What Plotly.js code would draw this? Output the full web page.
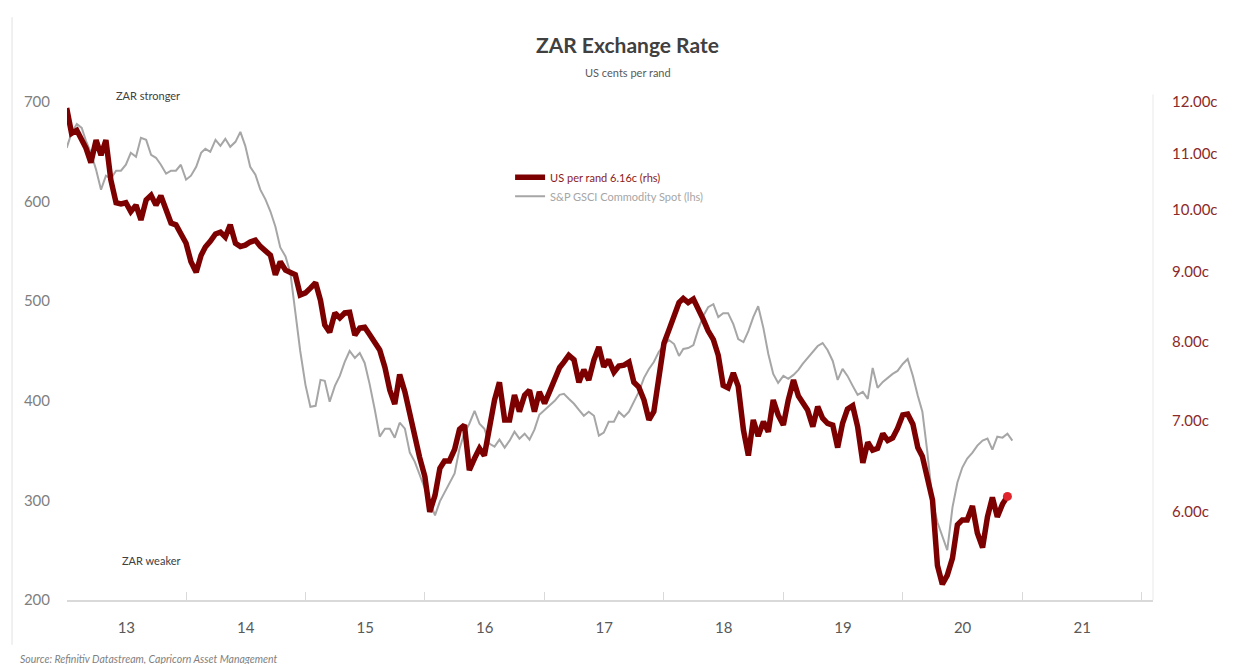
<!DOCTYPE html>
<html>
<head>
<meta charset="utf-8">
<script src="https://cdn.plot.ly/plotly-3.0.1.min.js"></script>
<style>
  html, body { margin: 0; padding: 0; background: #ffffff; }
  #chart { width: 1240px; height: 664px; }
</style>
</head>
<body>
<div id="chart"></div>
<script>
// Semi-monthly observations (1st and 16th of each month) starting January 2013.
const START_YEAR = 2013;

// US cents per rand (right-hand axis, log scale)
const usCentsPerRand = [
  11.88, 11.38, 11.44, 11.25, 11.10, 10.83, 11.25, 10.97, 11.25, 10.52, 10.12, 10.10,
  10.12, 9.97, 10.08, 9.83, 10.17, 10.25, 10.08, 10.24, 9.97, 9.78, 9.75, 9.61,
  9.45, 9.16, 9.00, 9.26, 9.39, 9.48, 9.60, 9.63, 9.55, 9.75, 9.45, 9.40,
  9.42, 9.47, 9.50, 9.40, 9.34, 9.26, 8.96, 9.16, 9.03, 9.00, 8.96, 8.66,
  8.69, 8.76, 8.84, 8.58, 8.23, 8.13, 8.40, 8.33, 8.40, 8.41, 8.09, 8.19,
  8.20, 8.10, 8.00, 7.89, 7.66, 7.37, 7.20, 7.57, 7.35, 7.07, 6.85, 6.58,
  6.37, 6.00, 6.17, 6.46, 6.54, 6.54, 6.67, 6.90, 6.95, 6.44, 6.57, 6.68,
  6.60, 6.91, 7.25, 7.47, 7.01, 7.01, 7.31, 7.11, 7.31, 7.37, 7.11, 7.35,
  7.21, 7.35, 7.50, 7.66, 7.73, 7.82, 7.76, 7.47, 7.63, 7.50, 7.76, 7.93,
  7.67, 7.76, 7.60, 7.68, 7.69, 7.73, 7.47, 7.41, 7.25, 7.01, 7.11, 7.55,
  7.98, 8.16, 8.34, 8.55, 8.61, 8.55, 8.60, 8.43, 8.31, 8.15, 8.03, 7.82,
  7.43, 7.40, 7.59, 7.42, 6.89, 6.60, 7.01, 6.82, 6.99, 6.87, 7.25, 7.07,
  6.95, 7.25, 7.50, 7.30, 7.21, 7.13, 6.93, 7.17, 7.03, 6.97, 6.95, 6.69,
  6.97, 7.14, 7.18, 6.93, 6.52, 6.75, 6.66, 6.68, 6.85, 6.77, 6.80, 6.91,
  7.07, 7.08, 6.96, 6.69, 6.59, 6.33, 6.12, 5.48, 5.31, 5.39, 5.55, 5.87,
  5.92, 5.92, 6.06, 5.79, 5.65, 5.95, 6.15, 5.95, 6.08, 6.16
];

// S&P GSCI Commodity Spot index (left-hand axis)
const gsciSpot = [
  654, 669, 678, 674, 661, 649, 632, 612, 626, 623, 631, 631,
  637, 649, 645, 664, 662, 647, 644, 637, 628, 631, 631, 637,
  622, 626, 635, 649, 653, 650, 662, 656, 663, 655, 660, 670,
  656, 635, 627, 612, 602, 590, 575, 554, 545, 528, 489, 450,
  416, 394, 395, 421, 420, 399, 415, 425, 439, 450, 443, 448,
  438, 417, 391, 364, 372, 372, 363, 378, 372, 348, 339, 326,
  313, 300, 285, 299, 308, 317, 327, 352, 368, 377, 390, 377,
  372, 357, 354, 361, 353, 360, 369, 362, 367, 361, 371, 386,
  391, 395, 400, 406, 407, 402, 397, 391, 385, 389, 385, 365,
  368, 379, 379, 389, 384, 389, 399, 409, 423, 432, 439, 449,
  456, 461, 457, 445, 452, 453, 456, 472, 485, 494, 497, 484,
  488, 488, 477, 462, 459, 470, 484, 495, 473, 447, 427, 418,
  425, 422, 426, 431, 437, 443, 449, 455, 458, 451, 440, 421,
  432, 425, 415, 406, 409, 402, 433, 413, 419, 423, 427, 430,
  437, 442, 425, 405, 389, 349, 299, 278, 265, 250, 293, 318,
  333, 342, 348, 355, 360, 362, 351, 364, 363, 367, 360
];

// Axis tick values
const randTicks = [6, 7, 8, 9, 10, 11, 12];
const randTickText = randTicks.map(v => v.toFixed(2) + 'c');
const gsciTicks = [200, 300, 400, 500, 600, 700];

function semiMonthlyDates(n) {
  const out = [];
  for (let k = 0; k < n; k++) {
    const y = START_YEAR + Math.floor(k / 24);
    const m = Math.floor((k % 24) / 2) + 1;
    const d = k % 2 ? 16 : 1;
    out.push(`${y}-${String(m).padStart(2, '0')}-${String(d).padStart(2, '0')}`);
  }
  return out;
}

const randDates = semiMonthlyDates(usCentsPerRand.length);
const gsciDates = semiMonthlyDates(gsciSpot.length);
const lastRand = usCentsPerRand[usCentsPerRand.length - 1];
const lastRandDate = randDates[randDates.length - 1];

const FONT = 'Lato, "Open Sans", "Liberation Sans", sans-serif';
const MAROON = '#7d0000';

const traces = [
  {
    x: gsciDates, y: gsciSpot, yaxis: 'y', type: 'scatter', mode: 'lines',
    name: '<span style="color:#a6a6a6">S&amp;P GSCI Commodity Spot (lhs)</span>',
    line: { color: '#a6a6a6', width: 2 },
    legendrank: 2, hoverinfo: 'skip'
  },
  {
    x: randDates, y: usCentsPerRand, yaxis: 'y2', type: 'scatter', mode: 'lines',
    name: `<span style="color:#8b1a1a">US per rand ${lastRand.toFixed(2)}c (rhs)</span>`,
    line: { color: MAROON, width: 5.5 },
    legendrank: 1, hoverinfo: 'skip'
  },
  {
    x: [lastRandDate], y: [lastRand], yaxis: 'y2', type: 'scatter', mode: 'markers',
    marker: { color: '#e0242c', size: 9 },
    showlegend: false, hoverinfo: 'skip'
  }
];

const layout = {
  width: 1240, height: 664,
  margin: { l: 67, r: 87, t: 102, b: 64 },
  paper_bgcolor: '#ffffff', plot_bgcolor: '#ffffff',
  font: { family: FONT, color: '#595959' },
  showlegend: true,
  title: {
    text: '<b>ZAR Exchange Rate</b>',
    font: { family: FONT, size: 21, color: '#404040' },
    xref: 'container', yref: 'container',
    x: 0.506, y: 0.932, xanchor: 'center', yanchor: 'middle'
  },
  legend: {
    x: 0.408, y: 0.878, xanchor: 'left', yanchor: 'top',
    bgcolor: 'rgba(0,0,0,0)', borderwidth: 0,
    font: { family: FONT, size: 11 },
    tracegroupgap: 0, itemwidth: 30
  },
  xaxis: {
    type: 'date',
    range: ['2013-01-02', '2022-02-04'],
    tick0: '2013-01-01', dtick: 'M12',
    tickformat: '%y', ticklabelmode: 'period',
    ticks: 'inside', ticklen: 8, tickcolor: '#d9d9d9', tickwidth: 1,
    showline: true, linecolor: '#d9d9d9', linewidth: 1.5,
    showgrid: false, zeroline: false,
    tickfont: { family: FONT, size: 15, color: '#595959' },
    ticklabelstandoff: 13
  },
  yaxis: {
    range: [200, 700], tickvals: gsciTicks,
    showgrid: false, zeroline: false, showline: false, ticks: '',
    tickfont: { family: FONT, size: 15, color: '#7f7f7f' },
    ticklabelstandoff: 16
  },
  yaxis2: {
    overlaying: 'y', side: 'right', type: 'log',
    range: [Math.log10(5.17), Math.log10(12)],
    tickvals: randTicks, ticktext: randTickText,
    showgrid: false, zeroline: false, showline: false, ticks: '',
    tickfont: { family: FONT, size: 15, color: '#8b2a2a' },
    ticklabelstandoff: 18
  },
  annotations: [
    {
      text: 'US cents per rand', xref: 'paper', yref: 'paper',
      x: 0.5166, y: 1.06, xanchor: 'center', yanchor: 'middle', showarrow: false,
      font: { family: FONT, size: 11, color: '#595959' }
    },
    {
      text: 'ZAR stronger', xref: 'paper', yref: 'paper',
      x: 0.075, y: 1.014, xanchor: 'center', yanchor: 'middle', showarrow: false,
      font: { family: FONT, size: 11, color: '#404040' }
    },
    {
      text: 'ZAR weaker', xref: 'paper', yref: 'paper',
      x: 0.077, y: 0.079, xanchor: 'center', yanchor: 'middle', showarrow: false,
      font: { family: FONT, size: 11, color: '#404040' }
    },
    {
      text: '<i>Source: Refinitiv Datastream, Capricorn Asset Management</i>',
      xref: 'paper', yref: 'paper',
      x: -0.045, y: -0.118, xanchor: 'left', yanchor: 'middle', showarrow: false,
      font: { family: FONT, size: 10.5, color: '#7f7f7f' }
    }
  ],
  shapes: [
    {
      type: 'line', xref: 'paper', yref: 'paper',
      x0: -0.0506, x1: -0.0506, y0: -0.09, y1: 1.17,
      line: { color: '#ebebeb', width: 1.5 }
    },
    {
      type: 'line', xref: 'paper', yref: 'paper',
      x0: 1, x1: 1, y0: 0, y1: 1.015,
      line: { color: '#f0f0f0', width: 1.5 }
    }
  ]
};

Plotly.newPlot('chart', traces, layout, { displayModeBar: false, staticPlot: true });
</script>
</body>
</html>
